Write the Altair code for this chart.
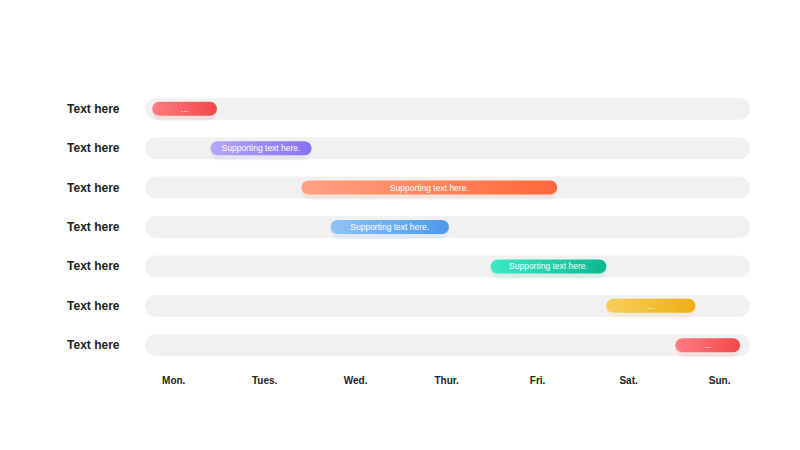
import json
import altair as alt
import pandas as pd

row_labels = ["Text here"] * 7
days = ["Mon.", "Tues.", "Wed.", "Thur.", "Fri.", "Sat.", "Sun."]
starts = [-0.23, 0.41, 1.41, 1.73, 3.49, 4.76, 5.52]
ends = [0.48, 1.52, 4.22, 3.03, 4.76, 5.74, 6.23]
texts = ["...", "Supporting text here.", "Supporting text here.", "Supporting text here.",
         "Supporting text here.", "...", "..."]
track_start = -0.31
track_end = 6.34
grad_left = ["#fd7d80", "#b6a6f8", "#ffa283", "#90c3f6", "#3eeac6", "#f6cf5c", "#fd7d80"]
grad_right = ["#f4474b", "#8771ee", "#ff673a", "#4d98e9", "#0ab792", "#f0ae12", "#f4474b"]

rows = list(range(len(row_labels)))
df = pd.DataFrame({
    "row": rows,
    "start": starts,
    "end": ends,
    "text": texts,
    "t0": [track_start] * len(rows),
    "t1": [track_end] * len(rows),
})

W, H = 605, 276
font = "Liberation Sans"

xscale = alt.Scale(domain=[track_start, track_end], nice=False, zero=False)
yscale = alt.Scale(domain=rows, paddingInner=0, paddingOuter=0)

label_expr_y = json.dumps(row_labels) + "[datum.value]"
label_expr_x = json.dumps(days) + "[datum.value]"

base = alt.Chart(df)

track = base.mark_bar(size=22, cornerRadius=11, color="#f1f1f1").encode(
    x=alt.X("t0:Q", scale=xscale, axis=alt.Axis(
        values=list(range(len(days))), labelExpr=label_expr_x, title=None,
        domain=False, ticks=False, grid=False, labelFont=font, labelFontSize=10,
        labelFontWeight="bold", labelColor="#222222", labelPadding=10)),
    x2="t1:Q",
    y=alt.Y("row:O", scale=yscale, axis=alt.Axis(
        labelExpr=label_expr_y, title=None, domain=False, ticks=False,
        labelFont=font, labelFontSize=12, labelFontWeight="bold",
        labelColor="#222222", labelPadding=26, labelAlign="right")),
)

layers = [track]
for i in rows:
    g = alt.Gradient(gradient="linear", x1=0, x2=1, y1=0, y2=0,
                     stops=[alt.GradientStop(color=grad_left[i], offset=0),
                            alt.GradientStop(color=grad_right[i], offset=1)])
    sub = base.transform_filter(alt.datum.row == i)
    shadow = sub.mark_bar(size=18, cornerRadius=9, color=grad_right[i], opacity=0.10, yOffset=3).encode(
        x=alt.X("start:Q", scale=xscale), x2="end:Q", y=alt.Y("row:O", scale=yscale))
    bar = sub.mark_bar(size=14, cornerRadius=7, color=g).encode(
        x=alt.X("start:Q", scale=xscale), x2="end:Q", y=alt.Y("row:O", scale=yscale))
    layers += [shadow, bar]

labels = base.transform_calculate(mid="(datum.start + datum.end) / 2").mark_text(
    color="white", font=font, fontSize=8.5, baseline="middle", align="center"
).encode(x=alt.X("mid:Q", scale=xscale), y=alt.Y("row:O", scale=yscale), text="text:N")
layers.append(labels)

chart = alt.layer(*layers).properties(
    width=W, height=H,
    background="white",
    autosize=alt.AutoSizeParams(type="none"),
    padding={"left": 137, "top": 81, "right": 30, "bottom": 40},
).configure_view(strokeWidth=0, stroke="transparent")

chart.save("out.html", embed_options={"renderer": "svg", "actions": False})
